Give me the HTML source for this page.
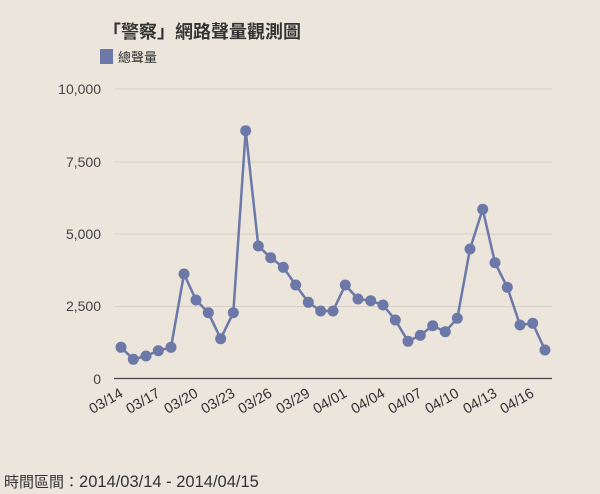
<!DOCTYPE html>
<html><head><meta charset="utf-8"><style>
body{margin:0;background:#ebe5dc;}
svg{display:block;font-family:"Liberation Sans","Noto Sans CJK TC",sans-serif;}
</style></head><body>
<svg width="600" height="494" viewBox="0 0 600 494">
<rect width="600" height="494" fill="#ebe5dc"/>
<text x="103" y="38" font-size="18" font-weight="bold" fill="#333">「警察」網路聲量觀測圖</text>
<rect x="100" y="49" width="13" height="15" fill="#6c78a8"/>
<text x="118" y="62" font-size="13" fill="#333">總聲量</text>
<g stroke="#d6d0c6" stroke-width="1">
<line x1="115" y1="89" x2="552" y2="89"/>
<line x1="115" y1="162" x2="552" y2="162"/>
<line x1="115" y1="234" x2="552" y2="234"/>
<line x1="115" y1="306.5" x2="552" y2="306.5"/>
</g>
<line x1="114" y1="378.5" x2="552" y2="378.5" stroke="#444" stroke-width="1.2"/>
<g font-size="14" fill="#444" text-anchor="end">
<text x="101" y="94">10,000</text>
<text x="101" y="167">7,500</text>
<text x="101" y="239">5,000</text>
<text x="101" y="311">2,500</text>
<text x="101" y="384">0</text>
</g>
<g id="s" fill="#6c78a8" stroke="#6c78a8">
<polyline fill="none" stroke-width="2.5" stroke-linejoin="round" points="121,347.3 133.3,359.3 146,356 158.3,350.7 171,347.3 184,274 196,300 208.3,312.7 220.7,338.7 233.3,312.7 245.7,130.7 258.3,246 270.7,257.7 283.3,267.3 295.7,285 308.3,302.3 320.7,311 333,311 345.3,285 358,299 370.7,300.7 383,305 395.3,320 408,341.3 420.3,335.3 432.7,325.7 445.3,331.7 457.3,318.3 470,249 482.7,209.3 495,262.7 507.3,287.3 520,325 532.7,323.3 545,350"/>
</g>
<g font-size="14.5" fill="#333" text-anchor="end">
<text transform="translate(124,396) rotate(-30)">03/14</text>
<text transform="translate(161,396) rotate(-30)">03/17</text>
<text transform="translate(199,396) rotate(-30)">03/20</text>
<text transform="translate(236,396) rotate(-30)">03/23</text>
<text transform="translate(273,396) rotate(-30)">03/26</text>
<text transform="translate(311,396) rotate(-30)">03/29</text>
<text transform="translate(348,396) rotate(-30)">04/01</text>
<text transform="translate(386,396) rotate(-30)">04/04</text>
<text transform="translate(423,396) rotate(-30)">04/07</text>
<text transform="translate(460,396) rotate(-30)">04/10</text>
<text transform="translate(498,396) rotate(-30)">04/13</text>
<text transform="translate(535,396) rotate(-30)">04/16</text>
</g>
<text x="4" y="487" font-size="15" fill="#333">時間區間：<tspan font-size="16.5">2014/03/14 - 2014/04/15</tspan></text>
<script>
var pts="121,347.3 133.3,359.3 146,356 158.3,350.7 171,347.3 184,274 196,300 208.3,312.7 220.7,338.7 233.3,312.7 245.7,130.7 258.3,246 270.7,257.7 283.3,267.3 295.7,285 308.3,302.3 320.7,311 333,311 345.3,285 358,299 370.7,300.7 383,305 395.3,320 408,341.3 420.3,335.3 432.7,325.7 445.3,331.7 457.3,318.3 470,249 482.7,209.3 495,262.7 507.3,287.3 520,325 532.7,323.3 545,350".split(" ");
var g=document.getElementById("s");
pts.forEach(function(p){var a=p.split(",");var c=document.createElementNS("http://www.w3.org/2000/svg","circle");c.setAttribute("cx",a[0]);c.setAttribute("cy",a[1]);c.setAttribute("r","5.5");c.setAttribute("stroke","none");g.appendChild(c);});
</script>
</svg>
</body></html>
